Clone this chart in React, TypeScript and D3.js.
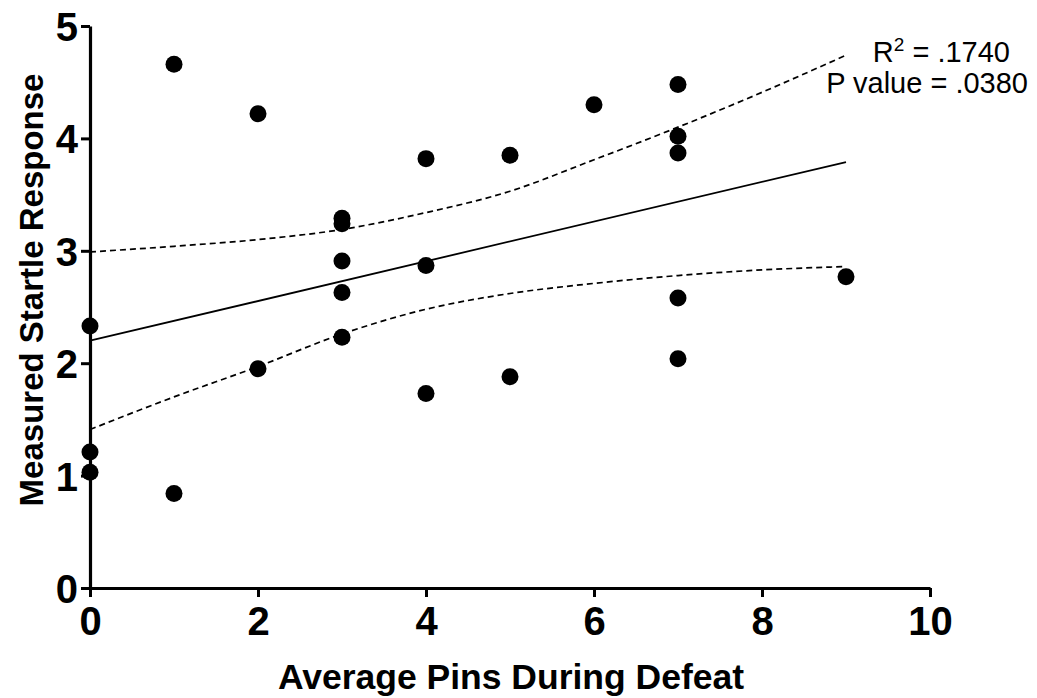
import React, { useRef, useEffect } from 'react'
import * as d3 from 'd3'

// data
const pinsX = [0, 0, 0, 1, 1, 2, 2, 3, 3, 3, 3, 3, 4, 4, 4, 5, 5, 6, 7, 7, 7, 7, 7, 9]
const startleY = [
  2.33, 1.21, 1.03, 4.66, 0.84, 4.22, 1.95, 3.29, 3.24, 2.91, 2.63, 2.23, 3.82, 2.87, 1.73,
  3.85, 1.88, 4.3, 4.48, 4.02, 3.87, 2.58, 2.04, 2.77,
]
// fitted line and 95% band, read at whole x values
const fitX = [0, 9]
const fitY = [2.2, 3.79]
const bandX = [0, 1, 2, 3, 4, 5, 6, 7, 8, 9]
const upperBand = [2.99, 3.04, 3.1, 3.19, 3.34, 3.53, 3.81, 4.1, 4.41, 4.74]
const lowerBand = [1.41, 1.7, 1.97, 2.26, 2.48, 2.62, 2.71, 2.78, 2.83, 2.86]
const xTicks = [0, 2, 4, 6, 8, 10]
const yTicks = [0, 1, 2, 3, 4, 5]
const statsLines = ['R2 = .1740', 'P value = .0380']

const W = 1037
const H = 698
const FONT = 'Liberation Sans, Arial, Helvetica, sans-serif'

export default function App() {
  const svgRef = useRef<SVGSVGElement>(null)

  useEffect(() => {
    const svg = d3.select(svgRef.current)
    svg.selectAll('*').remove()

    const x = d3.scaleLinear().domain([0, 10]).range([90, 930])
    const y = d3.scaleLinear().domain([0, 5]).range([588, 26])

    const line = d3
      .line<number>()
      .x((d) => x(d))
      .curve(d3.curveMonotoneX)

    svg
      .append('path')
      .attr('d', line.y((d, i) => y(fitY[i]))(fitX))
      .attr('fill', 'none')
      .attr('stroke', '#000')
      .attr('stroke-width', 1.8)
    ;[upperBand, lowerBand].forEach((b) => {
      svg
        .append('path')
        .attr('d', line.y((d, i) => y(b[i]))(bandX))
        .attr('fill', 'none')
        .attr('stroke', '#000')
        .attr('stroke-width', 1.7)
        .attr('stroke-dasharray', '6,4')
    })

    // points
    svg
      .append('g')
      .selectAll('circle')
      .data(pinsX)
      .join('circle')
      .attr('cx', (d) => x(d))
      .attr('cy', (d, i) => y(startleY[i]))
      .attr('r', 8.5)
      .attr('fill', '#000')

    // axes
    const xAxis = d3.axisBottom(x).tickValues(xTicks).tickFormat(d3.format('d')).tickSize(9).tickSizeOuter(0).tickPadding(9)
    const yAxis = d3.axisLeft(y).tickValues(yTicks).tickFormat(d3.format('d')).tickSize(9).tickSizeOuter(0).tickPadding(3)

    const gx = svg.append('g').attr('transform', 'translate(0,588)').call(xAxis)
    const gy = svg.append('g').attr('transform', 'translate(90,0)').call(yAxis)
    ;[gx, gy].forEach((g) => {
      g.select('.domain').attr('stroke', '#000').attr('stroke-width', 3.2)
      g.selectAll('.tick line').attr('stroke', '#000').attr('stroke-width', 3)
      g.selectAll('.tick text')
        .attr('fill', '#000')
        .style('font-family', FONT)
        .style('font-weight', 'bold')
        .style('font-size', '40px')
    })
    gy.selectAll('.tick text').attr('dy', '0.36em')
    gx.selectAll('.tick text').attr('dy', '0.72em')

    // titles
    svg
      .append('text')
      .attr('x', 511)
      .attr('y', 689)
      .attr('text-anchor', 'middle')
      .style('font-family', FONT)
      .style('font-weight', 'bold')
      .style('font-size', '35.5px')
      .text('Average Pins During Defeat')
    svg
      .append('text')
      .attr('transform', 'translate(43,290) rotate(-90)')
      .attr('text-anchor', 'middle')
      .style('font-family', FONT)
      .style('font-weight', 'bold')
      .style('font-size', '33px')
      .text('Measured Startle Response')

    // stats annotation
    const r2 = svg
      .append('text')
      .attr('x', 1010)
      .attr('y', 62)
      .attr('text-anchor', 'end')
      .style('font-family', FONT)
      .style('font-size', '29px')
    r2.append('tspan').text(statsLines[0].slice(0, 1))
    r2.append('tspan').attr('dy', -11).style('font-size', '19px').text(statsLines[0].slice(1, 2))
    r2.append('tspan').attr('dy', 11).text(statsLines[0].slice(2))
    svg
      .append('text')
      .attr('x', 1028)
      .attr('y', 93)
      .attr('text-anchor', 'end')
      .style('font-family', FONT)
      .style('font-size', '29px')
      .text(statsLines[1])
  }, [])

  return (
    <svg
      ref={svgRef}
      width={W}
      height={H}
      style={{ position: 'absolute', left: 0, top: 0, background: '#fff' }}
    />
  )
}
